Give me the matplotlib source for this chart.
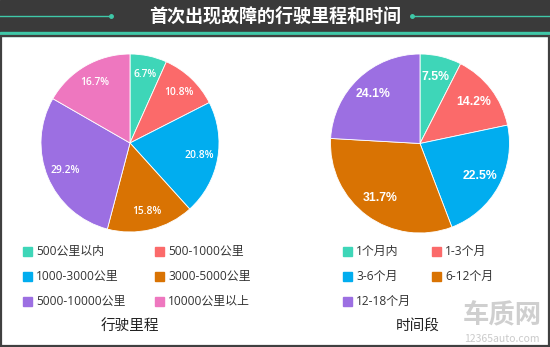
import matplotlib
matplotlib.use("Agg")
import matplotlib.pyplot as plt
import numpy as np
from matplotlib.patches import Rectangle

plt.rcParams['font.family'] = ['Noto Sans CJK SC', 'DejaVu Sans']

title = "首次出现故障的行驶里程和时间"

mileage_labels = ["500公里以内", "500-1000公里", "1000-3000公里",
                  "3000-5000公里", "5000-10000公里", "10000公里以上"]
mileage_values = [6.7, 10.8, 20.8, 15.8, 29.2, 16.7]
mileage_title = "行驶里程"

period_labels = ["1个月内", "1-3个月", "3-6个月", "6-12个月", "12-18个月"]
period_values = [7.5, 14.2, 22.5, 31.7, 24.1]
period_title = "时间段"

colors = ["#3ed6b8", "#fb6a6a", "#01adef", "#d97303", "#9c6fe2", "#ee77bf"]

W, H = 550, 347
fig = plt.figure(figsize=(W / 100, H / 100), dpi=100)
fig.patch.set_facecolor("white")

# background layer in pixel coordinates
bg = fig.add_axes([0, 0, 1, 1])
bg.set_xlim(0, W)
bg.set_ylim(H, 0)
bg.axis("off")
bg.add_patch(Rectangle((0, 0), W, 32, color="#3a3a3a", zorder=1))
bg.add_patch(Rectangle((0, 32), W, 4, color="#3fc8a8", zorder=2))
bg.add_patch(Rectangle((0.8, 36), W - 1.6, H - 36.8, fill=False,
                       edgecolor="#404040", linewidth=1.6, zorder=3))
bg.plot([0, 111], [16, 16], color="#3fc8a8", lw=1, zorder=3)
bg.plot([111], [16], "o", color="#3fc8a8", ms=2.5, zorder=3)
bg.plot([412, W], [16, 16], color="#3fc8a8", lw=1, zorder=3)
bg.plot([412], [16], "o", color="#3fc8a8", ms=2.5, zorder=3)
bg.text(W / 2, 16.5, title, color="white", fontsize=13, fontweight="bold",
        ha="center", va="center", zorder=4)

# watermark
bg.text(502, 316, "车质网", color="#c4c4c4", fontsize=19, fontweight="bold",
        ha="center", va="center", alpha=0.8, zorder=2)
bg.text(502, 339, "12365auto.com", color="#bdbdbd", fontsize=7.5,
        ha="center", va="center", alpha=0.8, zorder=2)


def pie_axes(cx, cy, r):
    return fig.add_axes([(cx - r) / W, (H - cy - r) / H, 2 * r / W, 2 * r / H])


def draw_pie(ax, values, cols, pctdist, font, size, weight):
    wedges, texts = ax.pie(values, colors=cols, startangle=90, counterclock=False,
                           wedgeprops=dict(linewidth=0.6, edgecolor="white"))
    for w, v in zip(wedges, values):
        ang = np.deg2rad((w.theta1 + w.theta2) / 2)
        ax.text(pctdist * np.cos(ang), pctdist * np.sin(ang), f"{v:.1f}%",
                ha="center", va="center", color="white", fontsize=size,
                fontweight=weight, family=font)
    ax.set_xlim(-1, 1)
    ax.set_ylim(-1, 1)
    ax.set_aspect("equal")
    ax.axis("off")


ax1 = pie_axes(130, 143, 89)
draw_pie(ax1, mileage_values, colors[:6], 0.79, ['Open Sans', 'DejaVu Sans'], 7.4, 'semibold')
ax2 = pie_axes(420, 143.5, 89.5)
draw_pie(ax2, period_values, colors[:5], 0.76, ['Liberation Sans', 'DejaVu Sans'], 8.8, 'bold')

legend_font = ['Open Sans', 'Noto Sans CJK SC', 'DejaVu Sans']


def legend(x_cols, labels, cols, title_x, title_txt):
    rows = [251, 276, 301]
    for i, (lab, c) in enumerate(zip(labels, cols)):
        x = x_cols[i % 2]
        y = rows[i // 2]
        bg.add_patch(Rectangle((x, y - 4.5), 9, 9, color=c, zorder=3))
        bg.text(x + 13, y, lab, fontsize=8.6, color="#333333", family=legend_font,
                ha="left", va="center", zorder=3)
    bg.text(title_x, 326, title_txt, fontsize=10.5, color="#222222",
            ha="center", va="center", zorder=3)


legend([23, 155], mileage_labels, colors[:6], 130, mileage_title)
legend([343, 432], period_labels, colors[:5], 418, period_title)

fig.savefig("out.png", dpi=100)
